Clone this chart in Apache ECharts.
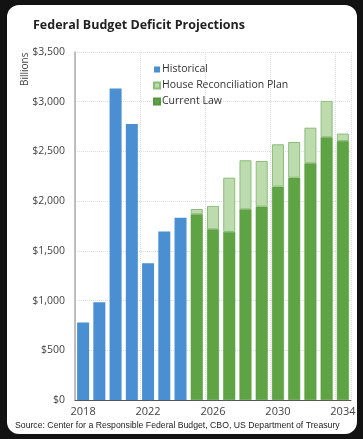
<!DOCTYPE html>
<html>
<head>
<meta charset="utf-8">
<script src="https://cdn.jsdelivr.net/npm/echarts@6/dist/echarts.min.js"></script>
<style>
html,body{margin:0;padding:0;background:#121212;width:363px;height:439px;overflow:hidden;}
#card{position:absolute;left:7px;top:5px;width:350px;height:429px;background:#fff;border-radius:12px;}
#chart{position:absolute;left:0;top:0;width:363px;height:439px;}
</style>
</head>
<body>
<div id="card"></div>
<div id="chart"></div>
<script>
const years = ['2018','2019','2020','2021','2022','2023','2024','2025','2026','2027','2028','2029','2030','2031','2032','2033','2034'];
const historical = [779, 984, 3132, 2775, 1375, 1694, 1833, null, null, null, null, null, null, null, null, null, null];
const currentLaw = [null, null, null, null, null, null, null, 1868, 1717, 1690, 1918, 1945, 2146, 2236, 2381, 2643, 2604];
const housePlanTotal = [null, null, null, null, null, null, null, 1921, 1952, 2236, 2411, 2404, 2572, 2595, 2739, 3008, 2680];
const yTicks = [0, 500, 1000, 1500, 2000, 2500, 3000, 3500];

const houseExtra = housePlanTotal.map((v, i) => v == null ? null : v - currentLaw[i]);

const chart = echarts.init(document.getElementById('chart'), null, {renderer: 'canvas'});
const font = "'Open Sans', sans-serif";
chart.setOption({
  animation: false,
  title: {
    text: 'Federal Budget Deficit Projections',
    left: 28, top: 14,
    textStyle: {fontFamily: font, fontWeight: 'bold', fontSize: 12.5, color: '#222'}
  },
  graphic: [
    {type: 'text', left: 15, top: 421, style: {text: 'Source: Center for a Responsible Federal Budget, CBO, US Department of Treasury', font: "8.7px 'Liberation Sans Narrow', 'Liberation Sans', sans-serif", fill: '#222'}},
    {type: 'text', x: 20, y: 86, rotation: Math.PI / 2, style: {text: 'Billions', font: "10px " + font, fill: '#444'}}
  ],
  legend: {
    orient: 'vertical',
    left: 148, top: 59,
    itemWidth: 6, itemHeight: 6, itemGap: 5,
    icon: 'rect',
    textStyle: {fontFamily: font, fontSize: 10.5, color: '#333', padding: [0, 0, 0, -3]},
    data: ['Historical', 'House Reconciliation Plan', 'Current Law']
  },
  grid: {left: 75, right: 12, top: 52, bottom: 39},
  xAxis: {
    type: 'category',
    data: years,
    boundaryGap: true,
    axisLine: {lineStyle: {color: '#555', width: 1}},
    axisTick: {interval: 3, length: 3, lineStyle: {color: '#555'}},
    axisLabel: {interval: 3, fontFamily: font, fontSize: 11, color: '#444', margin: 6},
    splitLine: {show: true, interval: 3, lineStyle: {color: '#ddd', type: 'dotted'}}
  },
  yAxis: {
    type: 'value',
    min: 0, max: 3500, interval: 500,
    axisLine: {show: true, lineStyle: {color: '#aaa', width: 1.5}},
    axisTick: {show: false},
    axisLabel: {fontFamily: font, fontSize: 10.5, color: '#444', margin: 10,
      formatter: v => yTicks.includes(v) ? '$' + v.toLocaleString('en-US') : ''},
    splitLine: {lineStyle: {color: '#ddd', type: 'dotted'}}
  },
  series: [
    {name: 'Historical', type: 'bar', stack: 'a', data: historical, barWidth: 12,
      itemStyle: {color: '#4a8fd1'}},
    {name: 'Current Law', type: 'bar', stack: 'a', data: currentLaw, barWidth: 12,
      itemStyle: {color: '#5fa444', borderColor: '#56963c', borderWidth: 0.5}},
    {name: 'House Reconciliation Plan', type: 'bar', stack: 'a', data: houseExtra, barWidth: 12,
      itemStyle: {color: '#bcdcae', borderColor: '#8cbd7a', borderWidth: 1}}
  ]
});
</script>
</body>
</html>
